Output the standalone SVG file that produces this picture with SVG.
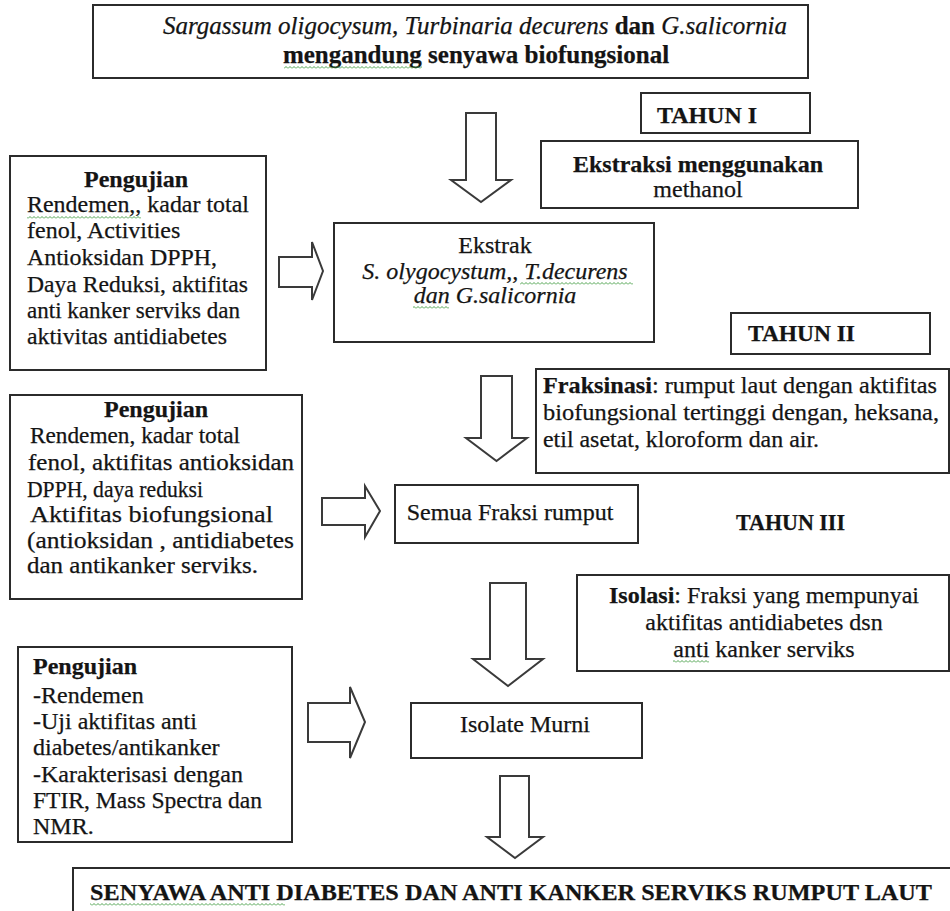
<svg xmlns="http://www.w3.org/2000/svg" width="950" height="911" viewBox="0 0 950 911">
<defs>
<style>
.box{fill:#fff;stroke:#2b2b2b;stroke-width:2}
.arr{fill:#fff;stroke:#3a3a3a;stroke-width:2;stroke-linejoin:miter}
text{font-family:"Liberation Serif","Times New Roman",serif;fill:#141414;font-size:24px;stroke:#141414;stroke-width:0.25}
.b{font-weight:bold}
.i{font-style:italic}
.m{text-anchor:middle}
.sq{fill:url(#sq)}
</style>
<pattern id="sq" x="0" y="0" width="4" height="3" patternUnits="userSpaceOnUse"><path d="M0 2.5 L2 0.5 L4 2.5" fill="none" stroke="#3c9a3c" stroke-width="0.9"/></pattern>
</defs>
<rect width="950" height="911" fill="#fff"/>

<g id="connectors">
<polygon class="arr" points="466,113 496,113 496,180 511,180 481,202 451,180 466,180"/>
<polygon class="arr" points="481,376 512,376 512,438 527,438 496.5,461 466,438 481,438"/>
<polygon class="arr" points="490,583 526,583 526,659 543,659 508,686 473,659 490,659"/>
<polygon class="arr" points="500,776 529,776 529,837 543,837 515,858 487,837 500,837"/>
<polygon class="arr" points="279,257 312,257 312,242 323,271 312,300 312,287 279,287"/>
<polygon class="arr" points="322,498 365,498 365,486 380,511 365,537 365,525 322,525"/>
<polygon class="arr" points="308,703 350,703 350,687 365,722 350,758 350,742 308,742"/>
</g>

<g id="node-top">
<rect class="box" x="93" y="5" width="715" height="73"/>
<text class="m" x="475" y="34" style="font-size:25px"><tspan class="i">Sargassum oligocysum, Turbinaria decurens</tspan><tspan class="b"> dan </tspan><tspan class="i">G.salicornia</tspan></text>
<text class="m b" x="476" y="63" style="font-size:25px">mengandung senyawa biofungsional</text>
<rect class="sq" x="284" y="66" width="138" height="3"/>
</g>

<g id="node-tahun1">
<rect class="box" x="641" y="93" width="169" height="40"/>
<text class="b" x="657" y="123" textLength="100" lengthAdjust="spacingAndGlyphs">TAHUN I</text>
</g>

<g id="node-ekstraksi">
<rect class="box" x="541" y="141" width="317" height="67"/>
<text class="m b" x="698" y="172">Ekstraksi menggunakan</text>
<text class="m" x="698" y="197">methanol</text>
</g>

<g id="node-pengujian1">
<rect class="box" x="10" y="156" width="256" height="214"/>
<text class="m b" x="136" y="187">Pengujian</text>
<text x="27" y="212" textLength="222" lengthAdjust="spacingAndGlyphs">Rendemen,,  kadar total</text>
<text x="27" y="238">fenol, Activities</text>
<text x="27" y="265" textLength="190" lengthAdjust="spacingAndGlyphs">Antioksidan DPPH,</text>
<text x="27" y="292" textLength="221" lengthAdjust="spacingAndGlyphs">Daya Reduksi, aktifitas</text>
<text x="27" y="318" textLength="213" lengthAdjust="spacingAndGlyphs">anti kanker serviks dan</text>
<text x="27" y="344" textLength="200" lengthAdjust="spacingAndGlyphs">aktivitas antidiabetes</text>
<rect class="sq" x="27" y="216" width="114" height="3"/>
</g>

<g id="node-ekstrak">
<rect class="box" x="334" y="223" width="320" height="119"/>
<text class="m" x="495" y="253">Ekstrak</text>
<text class="m i" x="495" y="279">S. olygocystum,, T.decurens</text>
<text class="m i" x="495" y="303">dan G.salicornia</text>
<rect class="sq" x="520" y="282" width="113" height="3"/>
<rect class="sq" x="413" y="306" width="36" height="3"/>
</g>

<g id="node-tahun2">
<rect class="box" x="731" y="313" width="199" height="41"/>
<text class="b" x="748" y="341" textLength="107" lengthAdjust="spacingAndGlyphs">TAHUN II</text>
</g>

<g id="node-fraksinasi">
<rect class="box" x="536" y="369" width="413" height="104"/>
<text x="543" y="393" textLength="394" lengthAdjust="spacingAndGlyphs"><tspan class="b">Fraksinasi</tspan>:  rumput laut dengan aktifitas</text>
<text x="543" y="420" textLength="396" lengthAdjust="spacingAndGlyphs">biofungsional tertinggi dengan, heksana,</text>
<text x="543" y="447" textLength="276" lengthAdjust="spacingAndGlyphs">etil asetat, kloroform dan air.</text>
</g>

<g id="node-pengujian2">
<rect class="box" x="10" y="395" width="292" height="204"/>
<text class="m b" x="156" y="417">Pengujian</text>
<text x="30" y="443" textLength="210" lengthAdjust="spacingAndGlyphs"> Rendemen, kadar total</text>
<text x="28" y="470" textLength="266" lengthAdjust="spacingAndGlyphs">fenol, aktifitas antioksidan</text>
<text x="27" y="497" textLength="176" lengthAdjust="spacingAndGlyphs">DPPH, daya reduksi</text>
<text x="30" y="522" textLength="243" lengthAdjust="spacingAndGlyphs"> Aktifitas biofungsional</text>
<text x="27" y="548" textLength="267" lengthAdjust="spacingAndGlyphs">(antioksidan , antidiabetes</text>
<text x="27" y="573" textLength="231" lengthAdjust="spacingAndGlyphs">dan antikanker serviks.</text>
</g>

<g id="node-semua">
<rect class="box" x="395" y="485" width="243" height="58"/>
<text class="m" x="510" y="520">Semua Fraksi rumput</text>
</g>

<g id="node-tahun3">
<text class="b" x="736" y="530" textLength="109" lengthAdjust="spacingAndGlyphs">TAHUN III</text>
</g>

<g id="node-isolasi">
<rect class="box" x="577" y="575" width="372" height="96"/>
<text class="m" x="764" y="603"><tspan class="b">Isolasi</tspan>: Fraksi yang mempunyai</text>
<text class="m" x="764" y="630">aktifitas antidiabetes dsn</text>
<text class="m" x="764" y="657">anti kanker serviks</text>
<rect class="sq" x="673" y="660" width="36" height="3"/>
</g>

<g id="node-pengujian3">
<rect class="box" x="18" y="647" width="274" height="195"/>
<text class="b" x="33" y="674">Pengujian</text>
<text x="33" y="703">-Rendemen</text>
<text x="33" y="729">-Uji aktifitas anti</text>
<text x="33" y="755">diabetes/antikanker</text>
<text x="33" y="782">-Karakterisasi dengan</text>
<text x="33" y="808" textLength="229" lengthAdjust="spacingAndGlyphs">FTIR, Mass Spectra dan</text>
<text x="33" y="834">NMR.</text>
</g>

<g id="node-isolate">
<rect class="box" x="411" y="703" width="231" height="55"/>
<text class="m" x="525" y="732">Isolate Murni</text>
</g>

<g id="node-senyawa">
<rect class="box" x="73" y="868" width="900" height="80"/>
<text class="b" x="90" y="900" textLength="842" lengthAdjust="spacingAndGlyphs">SENYAWA ANTI DIABETES DAN ANTI KANKER SERVIKS RUMPUT LAUT</text>
<rect class="sq" x="90" y="903" width="195" height="3"/>
</g>
</svg>
